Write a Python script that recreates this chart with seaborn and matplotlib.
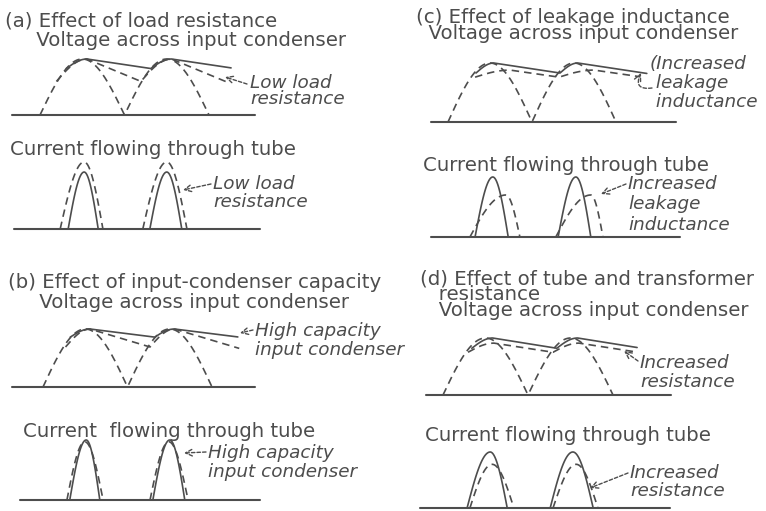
import numpy as np
import pandas as pd
import matplotlib
matplotlib.use("Agg")
import matplotlib.pyplot as plt
import seaborn as sns

# phase in electrical degrees: 0, 180, 360 are the zeros of the rectified wave
# envelope = [trough phase, trough level, peak phase, peak level, end phase]
a_v_normal = [56, 0.83, 100, 1.00, 407]
a_v_lowload = [35, 0.60, 100, 1.00, 396]
b_v_highcap = [58, 0.86, 100, 1.00, 415]
b_v_normal = [48, 0.69, 100, 1.00, 418]
c_v_normal = [60, 0.83, 98, 1.00, 426]
c_v_leakage = [58, 0.76, 133, 0.88, 410]
d_v_normal = [61, 0.82, 105, 1.00, 411]
d_v_resist = [53, 0.75, 108, 0.91, 411]

# current pulses = (start phase, peak phase, end phase, height)
a_i_normal = [(60, 94, 124, 0.85), (234, 270, 302, 0.85)]
a_i_lowload = [(43, 94, 134, 1.00), (219, 270, 313, 1.00)]
b_i_highcap = [(57, 92, 121, 1.00), (234, 270, 302, 1.00)]
b_i_normal = [(51, 89, 128, 0.97), (228, 268, 309, 0.97)]
c_i_normal = [(58, 96, 129, 1.00), (236, 274, 306, 1.00)]
c_i_leakage = [(47, 124, 154, 0.70), (231, 306, 332, 0.70)]
d_i_normal = [(51, 100, 136, 1.00), (227, 275, 318, 1.00)]
d_i_resist = [(57, 104, 150, 0.78), (233, 282, 328, 0.78)]

# texts
a_title = ["(a) Effect of load resistance", "     Voltage across input condenser"]
b_title = ["(b) Effect of input-condenser capacity", "     Voltage across input condenser"]
c_title = ["(c) Effect of leakage inductance", "  Voltage across input condenser"]
d_title = ["(d) Effect of tube and transformer", "   resistance", "   Voltage across input condenser"]
current_title = "Current flowing through tube"
a_note = ["Low load", "resistance"]
b_note = ["High capacity", "input condenser"]
c_note = ["Increased", "leakage", "inductance"]
d_note = ["Increased", "resistance"]

W, H = 766, 511
INK = "#4d4d4d"
DASH = (0, (4.5, 3))
TITLE_PT = 14.2
NOTE_PT = 13.2

sns.set_theme(style="white")
plt.rcParams["font.family"] = ["DejaVu Sans"]

fig = plt.figure(figsize=(W / 100, H / 100), dpi=100)
canvas = fig.add_axes([0, 0, 1, 1])
canvas.set_xlim(0, W)
canvas.set_ylim(H, 0)
canvas.axis("off")


def panel(x0, x1, ybase, zero, period, unit, top=1.2):
    # axes whose x is phase in degrees and y is level (1 = unit pixels)
    ax = fig.add_axes([x0 / W, 1 - ybase / H, (x1 - x0) / W, unit * top / H])
    ax.set_xlim((x0 - zero) / period * 180, (x1 - zero) / period * 180)
    ax.set_ylim(0, top)
    ax.axis("off")
    ax.axhline(0, color=INK, lw=1.5, clip_on=False)
    return ax


def draw(ax, x, y, dashed):
    df = pd.DataFrame({"phase": x, "level": y})
    sns.lineplot(data=df, x="phase", y="level", ax=ax, sort=False, estimator=None,
                 color=INK, lw=1.2, linestyle=DASH if dashed else "-")


def arches(ax):
    th = np.linspace(0, 360, 200)
    draw(ax, th, np.abs(np.sin(np.radians(th))), True)


def envelope(ax, env, dashed):
    tt, tl, tp, pl, tend = env
    slope = (pl - tl) / (tt + 180 - tp)
    xs, ys = [], []
    for k in range(2):
        t0, t1 = tt + 180 * k, tp + 180 * k
        th = np.linspace(t0, t1, 40)
        xs.append(th)
        ys.append(tl + (pl - tl) * np.sin(np.pi / 2 * (th - t0) / (t1 - t0)))
        t2 = tt + 180 * (k + 1) if k == 0 else tend
        th = np.linspace(t1, t2, 40)
        xs.append(th)
        ys.append(pl - slope * (th - t1))
    draw(ax, np.concatenate(xs), np.concatenate(ys), dashed)


def pulses(ax, plist, dashed):
    for s, p, e, h in plist:
        r = np.linspace(s, p, 40)
        f = np.linspace(p, e, 40)
        x = np.concatenate([r, f])
        y = np.concatenate([h * np.sin(np.pi / 2 * (r - s) / (p - s)),
                            h * np.sin(np.pi / 2 * (e - f) / (e - p))])
        draw(ax, x, y, dashed)


def block(x, base1, lines, size, spacing=16, italic=False):
    # one multi-line text; first baseline at base1, baselines `spacing` px apart
    em = size * 100 / 72
    ls = (spacing - 0.208 * em) / (0.760 * em)
    canvas.text(x, base1 - 0.760 * em, "\n".join(lines), color=INK, fontsize=size,
                va="top", ha="left", linespacing=ls,
                style="italic" if italic else "normal")


def arrow(x0, y0, x1, y1, rad=0.0):
    canvas.annotate("", xy=(x1, y1), xytext=(x0, y0),
                    arrowprops=dict(arrowstyle="->", color=INK, lw=1.0,
                                    linestyle=(0, (2.5, 1.5)), shrinkA=0, shrinkB=0,
                                    connectionstyle=f"arc3,rad={rad}"))


# (a) load resistance
ax = panel(12, 255, 115, 40, 84.5, 56)
arches(ax)
envelope(ax, a_v_normal, False)
envelope(ax, a_v_lowload, True)
ax = panel(14, 260, 229, 40, 84.5, 67)
pulses(ax, a_i_normal, False)
pulses(ax, a_i_lowload, True)
block(5, 26, a_title, TITLE_PT, 20)
block(10, 155, [current_title], TITLE_PT)
block(250, 88, a_note, NOTE_PT, 16, True)
arrow(247, 84, 225, 77)
block(213, 189, a_note, NOTE_PT, 18, True)
arrow(211, 184, 183, 190)

# (b) input-condenser capacity
ax = panel(12, 255, 387, 43, 84.5, 58)
arches(ax)
envelope(ax, b_v_highcap, False)
envelope(ax, b_v_normal, True)
ax = panel(20, 260, 500, 43, 84.5, 60)
pulses(ax, b_i_highcap, False)
pulses(ax, b_i_normal, True)
block(8, 288, b_title, TITLE_PT, 20)
block(23, 437, ["Current  flowing through tube"], TITLE_PT)
block(255, 336, b_note, NOTE_PT, 19, True)
arrow(253, 330, 240, 333)
block(208, 458, b_note, NOTE_PT, 19, True)
arrow(206, 452, 184, 453)

# (c) leakage inductance
ax = panel(431, 676, 122, 448, 84, 59)
arches(ax)
envelope(ax, c_v_normal, False)
envelope(ax, c_v_leakage, True)
ax = panel(431, 680, 237, 448, 84, 60)
pulses(ax, c_i_normal, False)
pulses(ax, c_i_leakage, True)
block(416, 23, c_title, TITLE_PT, 16)
block(423, 171, [current_title], TITLE_PT)
block(650, 69, ["(" + c_note[0]] + [" " + s for s in c_note[1:]], NOTE_PT, 18.5, True)
arrow(652, 88, 641, 73, rad=-0.9)
block(628, 189, c_note, NOTE_PT, 20, True)
arrow(626, 184, 601, 194)

# (d) tube and transformer resistance
ax = panel(426, 671, 395, 443, 85, 57)
arches(ax)
envelope(ax, d_v_normal, False)
envelope(ax, d_v_resist, True)
ax = panel(420, 670, 508, 443, 85, 56)
pulses(ax, d_i_normal, False)
pulses(ax, d_i_resist, True)
block(420, 284, d_title, TITLE_PT, 16)
block(425, 441, [current_title], TITLE_PT)
block(640, 368, d_note, NOTE_PT, 19, True)
arrow(638, 361, 624, 351)
block(630, 478, d_note, NOTE_PT, 18, True)
arrow(628, 473, 590, 488)

fig.savefig("out.png", dpi=100)
